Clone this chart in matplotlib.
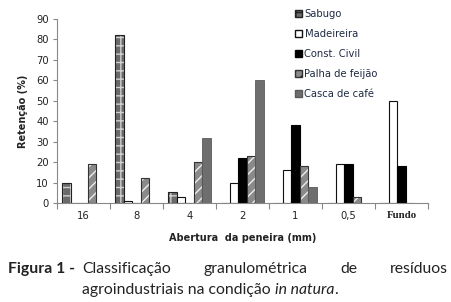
import matplotlib
matplotlib.use("Agg")
import matplotlib.pyplot as plt
from matplotlib.patches import Patch
import numpy as np

categories = ["16", "8", "4", "2", "1", "0,5", "Fundo"]
series_names = ["Sabugo", "Madeireira", "Const. Civil", "Palha de feijão", "Casca de café"]
sabugo = [10, 82, 5.5, 0, 0, 0, 0]
madeireira = [0, 1, 3, 10, 16, 19, 50]
const_civil = [0, 0, 0, 22, 38, 19, 18]
palha = [19, 12, 20, 23, 18, 3, 0]
casca = [0, 0, 32, 60, 8, 0, 0]
yticks = list(range(0, 91, 10))

fig = plt.figure(figsize=(4.51, 3.02), dpi=100)
W, H = 451, 302
ax = fig.add_axes([57 / W, 1 - 203 / H, (428 - 57) / W, (203 - 19) / H])

x = np.arange(len(categories))
bw = 0.16
offs = [-0.32, -0.16, 0.0, 0.16, 0.32]

# Sabugo
ax.bar(x + offs[0], sabugo, bw, color="#6a6a6a", edgecolor="#d0d0d0", hatch="++", linewidth=0)
ax.bar(x + offs[0], sabugo, bw, fill=False, edgecolor="#222222", linewidth=0.8)
# Madeireira
ax.bar(x + offs[1], madeireira, bw, color="white", edgecolor="#111111", linewidth=0.8)
# Const civil
ax.bar(x + offs[2], const_civil, bw, color="black", edgecolor="black", linewidth=0.8)
# Palha
ax.bar(x + offs[3], palha, bw, color="#8a8a8a", edgecolor="#eeeeee", hatch="///", linewidth=0)
ax.bar(x + offs[3], palha, bw, fill=False, edgecolor="#333333", linewidth=0.8)
# Casca
ax.bar(x + offs[4], casca, bw, color="#6e6e6e", edgecolor="#5a5a5a", linewidth=0.6)

ax.set_xlim(-0.5, len(categories) - 0.5)
ax.set_ylim(0, 90)
ax.set_yticks(yticks)
ax.tick_params(axis="y", labelsize=7.2, length=3, width=0.8, color="#888888", labelcolor="#222222", pad=3)
ax.set_xticks(x)
ax.set_xticklabels(categories)
ax.set_xticks(np.arange(-0.5, len(categories) + 0.5, 1), minor=True)
ax.tick_params(axis="x", which="major", length=0, labelsize=7.2, labelcolor="#222222", pad=6)
ax.tick_params(axis="x", which="minor", length=4, width=0.8, color="#888888")
lab = ax.get_xticklabels()[-1]
lab.set_fontfamily("Liberation Serif")
lab.set_fontweight("bold")
lab.set_fontsize(7.8)

for s in ["top", "right"]:
    ax.spines[s].set_visible(False)
for s in ["left", "bottom"]:
    ax.spines[s].set_color("#888888")
    ax.spines[s].set_linewidth(0.8)

ax.set_ylabel("Retenção (%)", fontsize=7, fontweight="bold", color="#222222", labelpad=6)
fig.text(242.5 / W, 1 - 238 / H, "Abertura  da peneira (mm)", fontsize=7, fontweight="bold",
         color="#222222", ha="center", va="center")

handles = [
    Patch(facecolor="#6a6a6a", edgecolor="#222222", hatch="++"),
    Patch(facecolor="white", edgecolor="#111111"),
    Patch(facecolor="black", edgecolor="black"),
    Patch(facecolor="#8a8a8a", edgecolor="#333333", hatch="///"),
    Patch(facecolor="#6e6e6e", edgecolor="#5a5a5a"),
]
leg = ax.legend(handles, series_names, loc="upper left", bbox_to_anchor=(295 / W, 1 - 9 / H),
                bbox_transform=fig.transFigure, frameon=False, fontsize=7.2,
                handlelength=0.7, handleheight=0.7, handletextpad=0.25, labelspacing=1.0,
                borderaxespad=0, borderpad=0)
for t in leg.get_texts():
    t.set_color("#1f2a44")

# Caption, justified first line
fig.canvas.draw()
r = fig.canvas.get_renderer()
cap_kw = dict(fontsize=11.3, family="Lato", color="#222222", va="baseline")
y1 = 1 - 273 / H
y2 = 1 - 294 / H
fig.text(8 / W, y1, "Figura 1 -", fontweight="bold", **cap_kw)
words = ["Classificação", "granulométrica", "de", "resíduos"]
left, right = 82, 448
txts = [fig.text(0, y1, w_, **cap_kw) for w_ in words]
widths = [t.get_window_extent(r).width for t in txts]
gap = (right - left - sum(widths)) / (len(words) - 1)
pos = left
for t, w_ in zip(txts, widths):
    t.set_x(pos / W)
    pos += w_ + gap

t1 = fig.text(82 / W, y2, "agroindustriais na condição ", **cap_kw)
w1 = t1.get_window_extent(r).width
t2 = fig.text((82 + w1) / W, y2, "in natura", style="italic", **cap_kw)
w2 = t2.get_window_extent(r).width
fig.text((82 + w1 + w2) / W, y2, ".", **cap_kw)

fig.savefig("out.png", dpi=100)
